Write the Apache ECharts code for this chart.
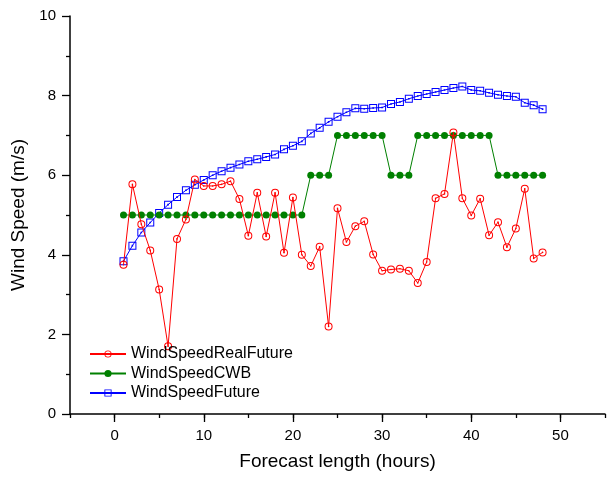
<!DOCTYPE html>
<html>
<head>
<meta charset="utf-8">
<script src="https://cdn.jsdelivr.net/npm/echarts@6/dist/echarts.min.js"></script>
<style>
  html, body { margin: 0; padding: 0; background: #fff; }
  #chart { width: 608px; height: 477px; }
</style>
</head>
<body>
<div id="chart"></div>
<script>
// forecast hours 1..48
const hours = [1, 2, 3, 4, 5, 6, 7, 8, 9, 10, 11, 12, 13, 14, 15, 16, 17, 18, 19, 20, 21, 22, 23, 24,
  25, 26, 27, 28, 29, 30, 31, 32, 33, 34, 35, 36, 37, 38, 39, 40, 41, 42, 43, 44, 45, 46, 47, 48];

const realFuture = [3.75, 5.77, 4.77, 4.11, 3.13, 1.70, 4.40, 4.89, 5.89, 5.73, 5.73, 5.77, 5.85, 5.40,
  4.48, 5.56, 4.46, 5.56, 4.05, 5.44, 4.00, 3.72, 4.20, 2.20, 5.17, 4.32, 4.72, 4.84, 4.01, 3.60,
  3.63, 3.65, 3.60, 3.29, 3.82, 5.42, 5.53, 7.07, 5.42, 4.99, 5.41, 4.49, 4.82, 4.19, 4.66, 5.66,
  3.91, 4.06];

const cwb = [5, 5, 5, 5, 5, 5, 5, 5, 5, 5, 5, 5, 5, 5, 5, 5, 5, 5, 5, 5, 5, 6, 6, 6,
  7, 7, 7, 7, 7, 7, 6, 6, 6, 7, 7, 7, 7, 7, 7, 7, 7, 7, 6, 6, 6, 6, 6, 6];

const future = [3.84, 4.23, 4.56, 4.81, 5.05, 5.26, 5.45, 5.62, 5.76, 5.88, 6.00, 6.10, 6.19, 6.27,
  6.35, 6.40, 6.46, 6.52, 6.65, 6.74, 6.85, 7.05, 7.19, 7.34, 7.47, 7.58, 7.68, 7.67, 7.69, 7.70,
  7.79, 7.84, 7.92, 7.99, 8.04, 8.09, 8.14, 8.19, 8.23, 8.14, 8.12, 8.07, 8.02, 7.99, 7.97, 7.82,
  7.76, 7.66];

const seriesNames = ['WindSpeedRealFuture', 'WindSpeedCWB', 'WindSpeedFuture'];
const xTickLabels = [0, 10, 20, 30, 40, 50];
const yTickLabels = [0, 2, 4, 6, 8, 10];

const FONT = 'Liberation Sans, Arial, sans-serif';

// open markers with a dot in the middle (ring + dot, nonzero winding)
const ringDot = 'path://M0,-4A4,4 0 1,1 0,4A4,4 0 1,1 0,-4ZM0,-3A3,3 0 1,0 0,3A3,3 0 1,0 0,-3ZM0,-0.8A0.8,0.8 0 1,1 0,0.8A0.8,0.8 0 1,1 0,-0.8Z';
const squareDot = 'path://M-4,-4H4V4H-4ZM-3,-3V3H3V-3ZM-0.8,-0.8H0.8V0.8H-0.8Z';

const pairs = arr => hours.map((h, i) => [h, arr[i]]);

const chart = echarts.init(document.getElementById('chart'), null, { renderer: 'canvas' });

const axisLine = { show: true, onZero: false, lineStyle: { color: '#000', width: 1.5 } };
const tickStyle = { color: '#000', width: 1.3 };

chart.setOption({
  animation: false,
  backgroundColor: '#fff',
  textStyle: { fontFamily: FONT },
  grid: { left: 70, right: 2, top: 16, bottom: 63 },
  legend: {
    orient: 'vertical',
    left: 84,
    top: 341,
    itemWidth: 36,
    itemHeight: 9,
    itemGap: 3.5,
    data: seriesNames,
    textStyle: { fontFamily: FONT, fontSize: 16, color: '#000' }
  },
  xAxis: [
    {
      type: 'value',
      min: -5,
      max: 55,
      interval: 5,
      position: 'bottom',
      name: 'Forecast length (hours)',
      nameLocation: 'middle',
      nameGap: 38,
      nameTextStyle: { fontFamily: FONT, fontSize: 19, color: '#000' },
      axisLine: axisLine,
      axisTick: { show: true, inside: false, length: 4, lineStyle: tickStyle },
      axisLabel: {
        fontFamily: FONT, fontSize: 15, color: '#000', margin: 14,
        formatter: v => (xTickLabels.indexOf(v) >= 0 ? String(v) : '')
      },
      splitLine: { show: false }
    },
    {
      // longer major ticks at the labelled hours
      type: 'value',
      min: -5,
      max: 55,
      position: 'bottom',
      axisLine: { show: false, onZero: false },
      axisTick: { show: true, inside: false, length: 8, customValues: xTickLabels, lineStyle: tickStyle },
      axisLabel: { show: false },
      splitLine: { show: false }
    }
  ],
  yAxis: {
    type: 'value',
    min: 0,
    max: 10,
    interval: 2,
    name: 'Wind Speed (m/s)',
    nameLocation: 'middle',
    nameGap: 40,
    nameTextStyle: { fontFamily: FONT, fontSize: 19, color: '#000' },
    axisLine: axisLine,
    axisTick: { show: true, inside: false, length: 8, lineStyle: tickStyle },
    minorTick: { show: true, splitNumber: 2, length: 4, lineStyle: tickStyle },
    axisLabel: {
      fontFamily: FONT, fontSize: 15, color: '#000', margin: 14,
      formatter: v => (yTickLabels.indexOf(v) >= 0 ? String(v) : '')
    },
    splitLine: { show: false }
  },
  series: [
    {
      name: seriesNames[0],
      type: 'line',
      data: pairs(realFuture),
      symbol: ringDot,
      symbolSize: 8,
      lineStyle: { color: '#ff0000', width: 1 },
      itemStyle: { color: '#ff0000' },
      z: 3
    },
    {
      name: seriesNames[1],
      type: 'line',
      data: pairs(cwb),
      symbol: 'circle',
      symbolSize: 7,
      lineStyle: { color: '#008000', width: 1 },
      itemStyle: { color: '#008000' },
      z: 2
    },
    {
      name: seriesNames[2],
      type: 'line',
      data: pairs(future),
      symbol: squareDot,
      symbolSize: 8,
      lineStyle: { color: '#0000ff', width: 1 },
      itemStyle: { color: '#0000ff' },
      z: 1
    }
  ]
});
</script>
</body>
</html>
